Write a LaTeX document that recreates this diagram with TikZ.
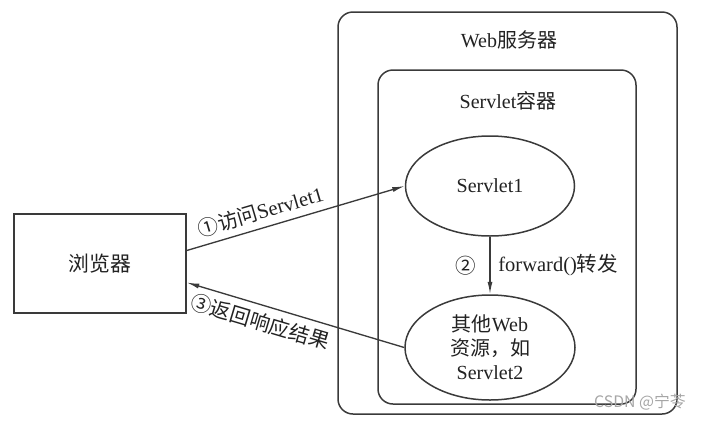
\documentclass[tikz,border=0pt]{standalone}
\usepackage{fontspec}
\setmainfont{Liberation Serif}
\newfontfamily\zhfont{Noto Sans CJK SC}
\usetikzlibrary{positioning,shapes.geometric,arrows.meta,calc}
\newcommand{\zh}[1]{{\zhfont #1}}
\definecolor{edge}{HTML}{3A3A3A}
\definecolor{ink}{HTML}{222222}
\tikzset{
box/.style={draw=edge,line width=0.9pt,rectangle,inner sep=0pt,text=ink,font=\fontsize{12.5}{14.4}\selectfont},
frame/.style={draw=edge,line width=0.9pt,rectangle,rounded corners=9pt,inner sep=0pt},
oval/.style={draw=edge,line width=0.9pt,ellipse,inner sep=0pt,align=center,text=ink,font=\fontsize{12}{14.4}\selectfont},
title/.style={font=\fontsize{12}{14.4}\selectfont,text=ink},
callarrow/.style={-{Latex[length=7.5pt,width=3pt]},draw=edge,line width=0.8pt},
arrowtext/.style={font=\fontsize{12.3}{14}\selectfont,text=ink},
watermark/.style={font=\zhfont\fontsize{9.5}{11}\selectfont,text=black!35}
}

\begin{document}
\begin{tikzpicture}[x=0.6pt,y=-0.6pt]
\useasboundingbox (0,0) rectangle (712,422);
% containers
\node[frame,minimum width=203.4pt,minimum height=241.2pt] (web) at (507.5,213) {};
\node[frame,minimum width=154.8pt,minimum height=200.4pt] (cont) at (507,237) {};
\node[title] (webtitle) at (509,40) {Web\zh{服务器}};
\node[title] (conttitle) at (508,101) {Servlet\zh{容器}};
% browser and servlets
\node[box,minimum width=103.2pt,minimum height=59.4pt] (browser) at (100,263.5) {\zh{浏览器}};
\node[oval,minimum width=101.4pt,minimum height=60pt] (s1) at (490,186) {Servlet1};
\node[oval,minimum width=102pt,minimum height=63pt] (other) at (490,347.5) {\zh{其他}Web\\\zh{资源，如}\\Servlet2};
% requests
\draw[callarrow] ($(browser.east)+(0,-13)$) -- (s1.west)
  node[arrowtext,pos=0.36,above=0.5pt,sloped] (visit) {\zh{①访问}Servlet1};
\draw[callarrow] (s1.south) -- (other.north) coordinate[midway] (fwdmid);
\node[arrowtext,left=5pt of fwdmid] (step2) {\zh{②}};
\node[arrowtext,right=1.5pt of fwdmid] (fwd) {forward()\zh{转发}};
\draw[callarrow] (other.west) -- ($(browser.east)+(0,19)$)
  node[arrowtext,pos=0.64,below=0.5pt,sloped] (reply) {\zh{③返回响应结果}};
\node[watermark] (mark) at (640,402) {CSDN @宁苓};
\end{tikzpicture}
\end{document}
